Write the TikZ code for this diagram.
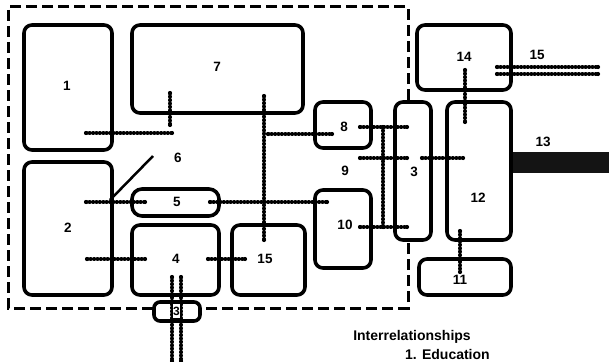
\documentclass[tikz,border=0pt]{standalone}
\usepackage{fontspec}
\setmainfont{Liberation Sans}
\begin{document}
\begin{tikzpicture}[x=1pt,y=-1pt,
 blk/.style={draw, line width=3.6pt, rounded corners=8pt, fill=white, inner sep=0pt},
 lbl/.style={font=\fontsize{13.5}{14}\selectfont\bfseries, inner sep=0pt},
 beadline/.style={line width=1.8pt},
 beaddots/.style={line width=3.4pt, line cap=round, dash pattern=on 0.6pt off 2.8pt},
 bound/.style={line width=3pt, dash pattern=on 11pt off 5pt},
 txt/.style={font=\fontsize{14}{16}\selectfont\bfseries, inner sep=0pt}]
\useasboundingbox (0,0) rectangle (609,361);
% boundary
\coordinate (d1) at (408,100);
\coordinate (d2) at (408,7);
\coordinate (d3) at (8,7);
\coordinate (d4) at (8,308);
\coordinate (d5) at (408,308);
\coordinate (d6) at (408,242);
\draw[bound] (d1) -- (d2) -- (d3) -- (d4) -- (d5) -- (d6);
% bar 13
\fill[black!92] (482,152) rectangle (609,173);
% boxes
\node[blk, minimum width=88pt, minimum height=125pt] (b1) at (68,87.5) {};
\node[blk, minimum width=171pt, minimum height=88pt] (b7) at (217.5,69) {};
\node[blk, minimum width=88pt, minimum height=133pt] (b2) at (68,228.5) {};
\node[blk, minimum width=87pt, minimum height=27pt, rounded corners=10pt] (b5) at (175.5,202.5) {};
\node[blk, minimum width=87pt, minimum height=70pt] (b4) at (175.5,260) {};
\node[blk, minimum width=73pt, minimum height=70pt] (b15) at (268.5,260) {};
\node[blk, minimum width=56pt, minimum height=46pt] (b8) at (343,125) {};
\node[blk, minimum width=56pt, minimum height=78pt] (b10) at (343,229) {};
\node[blk, minimum width=36pt, minimum height=138pt] (b3) at (413,171) {};
\node[blk, minimum width=94pt, minimum height=65pt] (b14) at (464,57.5) {};
\node[blk, minimum width=64pt, minimum height=138pt] (b12) at (479,171) {};
\node[blk, minimum width=92pt, minimum height=36pt] (b11) at (465,277) {};
\node[blk, minimum width=46pt, minimum height=19pt, rounded corners=6pt] (sb3) at (177,311.5) {};
% connector end points
\coordinate (a1) at (86,133);   \coordinate (a2) at (172,133);
\coordinate (a3) at (170,93);   \coordinate (a4) at (170,125);
\coordinate (a5) at (264,96);   \coordinate (a6) at (264,240);
\coordinate (a7) at (268,134);  \coordinate (a8) at (332,134);
\coordinate (a9) at (86,202);   \coordinate (a10) at (145,202);
\coordinate (a11) at (210,202); \coordinate (a12) at (327,202);
\coordinate (a13) at (87,259);  \coordinate (a14) at (145,259);
\coordinate (a15) at (208,259); \coordinate (a16) at (245,259);
\coordinate (a17) at (172,277); \coordinate (a18) at (172,361);
\coordinate (a19) at (181,277); \coordinate (a20) at (181,361);
\coordinate (a21) at (360,127); \coordinate (a22) at (407,127);
\coordinate (a23) at (383,127); \coordinate (a24) at (383,227);
\coordinate (a25) at (360,158); \coordinate (a26) at (407,158);
\coordinate (a27) at (360,227); \coordinate (a28) at (407,227);
\coordinate (a29) at (422,158); \coordinate (a30) at (463,158);
\coordinate (a31) at (465,70);  \coordinate (a32) at (465,122);
\coordinate (a33) at (460,231); \coordinate (a34) at (460,272);
\coordinate (a35) at (497,67);  \coordinate (a36) at (598,67);
\coordinate (a37) at (497,74);  \coordinate (a38) at (598,74);
\coordinate (s1) at (153,156);  \coordinate (s2) at (110,200);
% connectors
\foreach \p/\q in {a1/a2,a3/a4,a5/a6,a7/a8,a9/a10,a11/a12,a13/a14,a15/a16,a17/a18,a19/a20,a21/a22,a23/a24,a25/a26,a27/a28,a29/a30,a31/a32,a33/a34,a35/a36,a37/a38}
  {\draw[beadline] (\p) -- (\q);
   \draw[beaddots] (\p) -- (\q);
   \fill (\p) circle (2.1pt) (\q) circle (2.1pt);}
\draw[line width=2.5pt] (s1) -- (s2);
% labels
\node[lbl] (l1) at (67,86) {1};
\node[lbl] (l7) at (217,67) {7};
\node[lbl] (l2) at (68,228) {2};
\node[lbl] (l5) at (177,202) {5};
\node[lbl] (l4) at (176,259) {4};
\node[lbl] (l15) at (265,259) {15};
\node[lbl] (l8) at (344,127) {8};
\node[lbl] (l10) at (345,225) {10};
\node[lbl] (l3) at (414,172) {3};
\node[lbl] (l14) at (464,57) {14};
\node[lbl] (l12) at (478,198) {12};
\node[lbl] (l11) at (460,280) {11};
\node[lbl] (l13) at (543,142) {13};
\node[lbl] (l15b) at (537,55) {15};
\node[lbl] (l9) at (345,171) {9};
\node[lbl] (l6) at (178,158) {6};
\node[lbl, font=\fontsize{12}{13}\selectfont\bfseries, fill=white, draw, line width=1.5pt, minimum width=9pt, minimum height=15pt, inner sep=0.5pt] (lsb3) at (176.5,311) {3};
% text
\node[txt, anchor=base] (t1) at (412,340) {Interrelationships};
\node[txt, anchor=north west] (t2) at (405,349) {1. Education};
\end{tikzpicture}
\end{document}
